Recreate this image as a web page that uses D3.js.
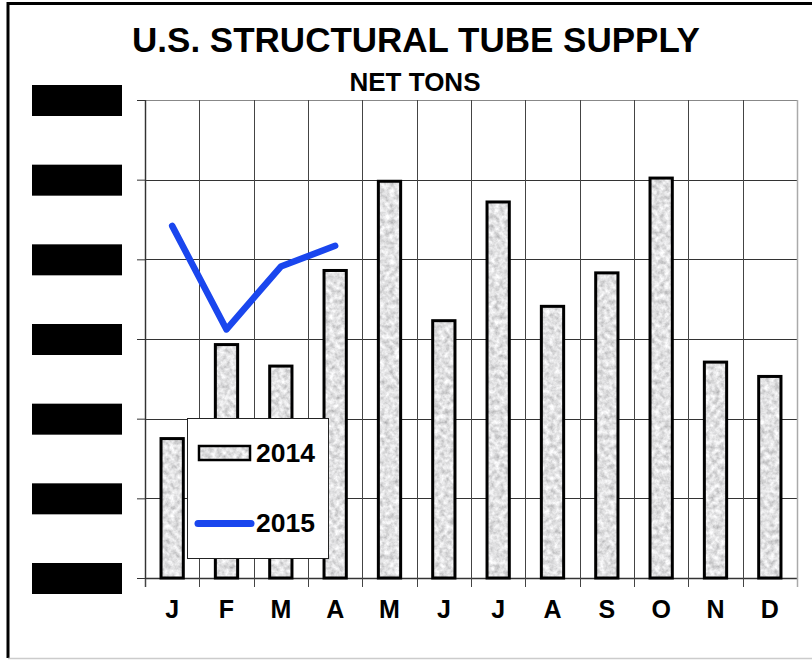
<!DOCTYPE html>
<html>
<head>
<meta charset="utf-8">
<script src="https://cdn.jsdelivr.net/npm/d3@7"></script>
<style>
  body { margin: 0; background: #fff; }
  svg { display: block; font-family: "Liberation Sans", Arial, sans-serif; }
</style>
</head>
<body>
<svg id="chart" width="812" height="660"></svg>
<script>
// data (y labels are blacked out, so units are arbitrary)
let months = ["J", "F", "M", "A", "M2", "J2", "J3", "A2", "S", "O", "N", "D"];
let monthLabels = ["J", "F", "M", "A", "M", "J", "J", "A", "S", "O", "N", "D"];
let supply2014 = [1.75, 2.93, 2.66, 3.86, 4.98, 3.23, 4.72, 3.41, 3.83, 5.02, 2.71, 2.53];
let supply2015 = [4.42, 3.12, 3.91, 4.17];
let yTicks = [0, 1, 2, 3, 4, 5, 6];

let svg = d3.select("#chart");
let margin = {top: 100, right: 15, bottom: 82, left: 145};
let W = 812, H = 660;

let x = d3.scaleBand().domain(months).range([margin.left, W - margin.right]).padding(0);
let y = d3.scaleLinear().domain([0, 6]).range([H - margin.bottom, margin.top]);
let barW = x.bandwidth() * 0.41;

// speckled grey texture for the bars
let defs = svg.append("defs");
let f = defs.append("filter").attr("id", "speckle")
    .attr("x", 0).attr("y", 0).attr("width", 1).attr("height", 1);
f.append("feTurbulence").attr("type", "fractalNoise")
    .attr("baseFrequency", 0.2).attr("numOctaves", 3).attr("seed", 7).attr("result", "noise");
f.append("feColorMatrix").attr("in", "noise").attr("type", "matrix")
    .attr("values", "0.8 0 0 0 0.36  0.8 0 0 0 0.36  0.8 0 0 0 0.37  0 0 0 0 1")
    .attr("result", "grey");
f.append("feComposite").attr("in", "grey").attr("in2", "SourceGraphic").attr("operator", "in");

// outer frame
svg.append("line").attr("x1", 7).attr("x2", W).attr("y1", 3.5).attr("y2", 3.5)
    .attr("stroke", "#000").attr("stroke-width", 3);
svg.append("line").attr("x1", 8).attr("x2", 8).attr("y1", 2).attr("y2", 658)
    .attr("stroke", "#000").attr("stroke-width", 3);
svg.append("line").attr("x1", 8).attr("x2", W).attr("y1", 658.5).attr("y2", 658.5)
    .attr("stroke", "#ccc").attr("stroke-width", 1.5);

// titles
svg.append("text").attr("x", 416).attr("y", 52)
    .attr("text-anchor", "middle").attr("font-weight", "bold").attr("font-size", 35)
    .text("U.S. STRUCTURAL TUBE SUPPLY");
svg.append("text").attr("x", 415).attr("y", 90.5)
    .attr("text-anchor", "middle").attr("font-weight", "bold").attr("font-size", 26)
    .text("NET TONS");

let x0 = margin.left, x1 = W - margin.right;

// horizontal grid
svg.append("g").selectAll("line").data(yTicks).enter().append("line")
    .attr("x1", x0).attr("x2", x1)
    .attr("y1", d => Math.round(y(d)) + 0.5).attr("y2", d => Math.round(y(d)) + 0.5)
    .attr("stroke", d => d === 6 ? "#888" : "#333").attr("stroke-width", d => d === 0 ? 1.5 : 1);

// vertical grid + ticks below the axis
let seps = months.map(m => x(m)).concat([x1]);
svg.append("g").selectAll("line").data(seps).enter().append("line")
    .attr("x1", d => Math.round(d) + 0.5).attr("x2", d => Math.round(d) + 0.5)
    .attr("y1", y(6)).attr("y2", y(0) + 9)
    .attr("stroke", (d, i) => i === seps.length - 1 ? "#aaa" : "#444")
    .attr("stroke-width", (d, i) => (i === 0 || i === seps.length - 1) ? 1.5 : 1);

// y axis: ticks, labels are blacked out in the source
let yAxis = svg.append("g").attr("transform", `translate(${x0},0)`)
    .call(d3.axisLeft(y).tickValues(yTicks).tickSize(8).tickFormat(""));
yAxis.select(".domain").attr("stroke", "#333");
yAxis.selectAll(".tick line").attr("stroke", "#333");
yAxis.selectAll(".tick").append("rect")
    .attr("x", -113).attr("y", -15.5).attr("width", 90).attr("height", 31)
    .attr("fill", "#000");

// x axis labels
let xAxis = svg.append("g").attr("transform", `translate(0,${y(0)})`)
    .call(d3.axisBottom(x).tickSize(0).tickFormat((d, i) => monthLabels[i]));
xAxis.select(".domain").remove();
xAxis.selectAll("text").attr("dy", 0).attr("y", 40)
    .attr("font-size", 25).attr("font-weight", "bold").attr("fill", "#000")
    .attr("font-family", "Liberation Sans, Arial, sans-serif");

// 2014 bars
let bars = svg.append("g");
bars.selectAll("rect.fill").data(supply2014).enter().append("rect")
    .attr("class", "fill")
    .attr("x", (d, i) => x(months[i]) + x.bandwidth() / 2 - barW / 2)
    .attr("width", barW)
    .attr("y", d => y(d))
    .attr("height", d => y(0) - y(d))
    .attr("fill", "#ccc").attr("filter", "url(#speckle)");
bars.selectAll("rect.edge").data(supply2014).enter().append("rect")
    .attr("class", "edge")
    .attr("x", (d, i) => x(months[i]) + x.bandwidth() / 2 - barW / 2)
    .attr("width", barW)
    .attr("y", d => y(d))
    .attr("height", d => y(0) - y(d))
    .attr("fill", "none").attr("stroke", "#000").attr("stroke-width", 3);

// 2015 line
let line = d3.line()
    .x((d, i) => x(months[i]) + x.bandwidth() / 2)
    .y(d => y(d));
svg.append("path").datum(supply2015)
    .attr("d", line)
    .attr("fill", "none").attr("stroke", "#1a46ee").attr("stroke-width", 6.5)
    .attr("stroke-linejoin", "round").attr("stroke-linecap", "round");

// legend
let lg = svg.append("g").attr("transform", "translate(187,418)");
lg.append("rect").attr("x", 0.5).attr("y", 0.5).attr("width", 141).attr("height", 140)
    .attr("fill", "#fff").attr("stroke", "#222").attr("stroke-width", 1);
lg.append("rect").attr("x", 12).attr("y", 28).attr("width", 51).attr("height", 14)
    .attr("fill", "#ccc").attr("filter", "url(#speckle)");
lg.append("rect").attr("x", 12).attr("y", 28).attr("width", 51).attr("height", 14)
    .attr("fill", "none").attr("stroke", "#000").attr("stroke-width", 2.5);
lg.append("text").attr("x", 69).attr("y", 44)
    .attr("font-size", 26.5).attr("font-weight", "bold").text("2014");
lg.append("line").attr("x1", 11).attr("x2", 64).attr("y1", 105.5).attr("y2", 105.5)
    .attr("stroke", "#1a46ee").attr("stroke-width", 7).attr("stroke-linecap", "round");
lg.append("text").attr("x", 69).attr("y", 114)
    .attr("font-size", 26.5).attr("font-weight", "bold").text("2015");
</script>
</body>
</html>
